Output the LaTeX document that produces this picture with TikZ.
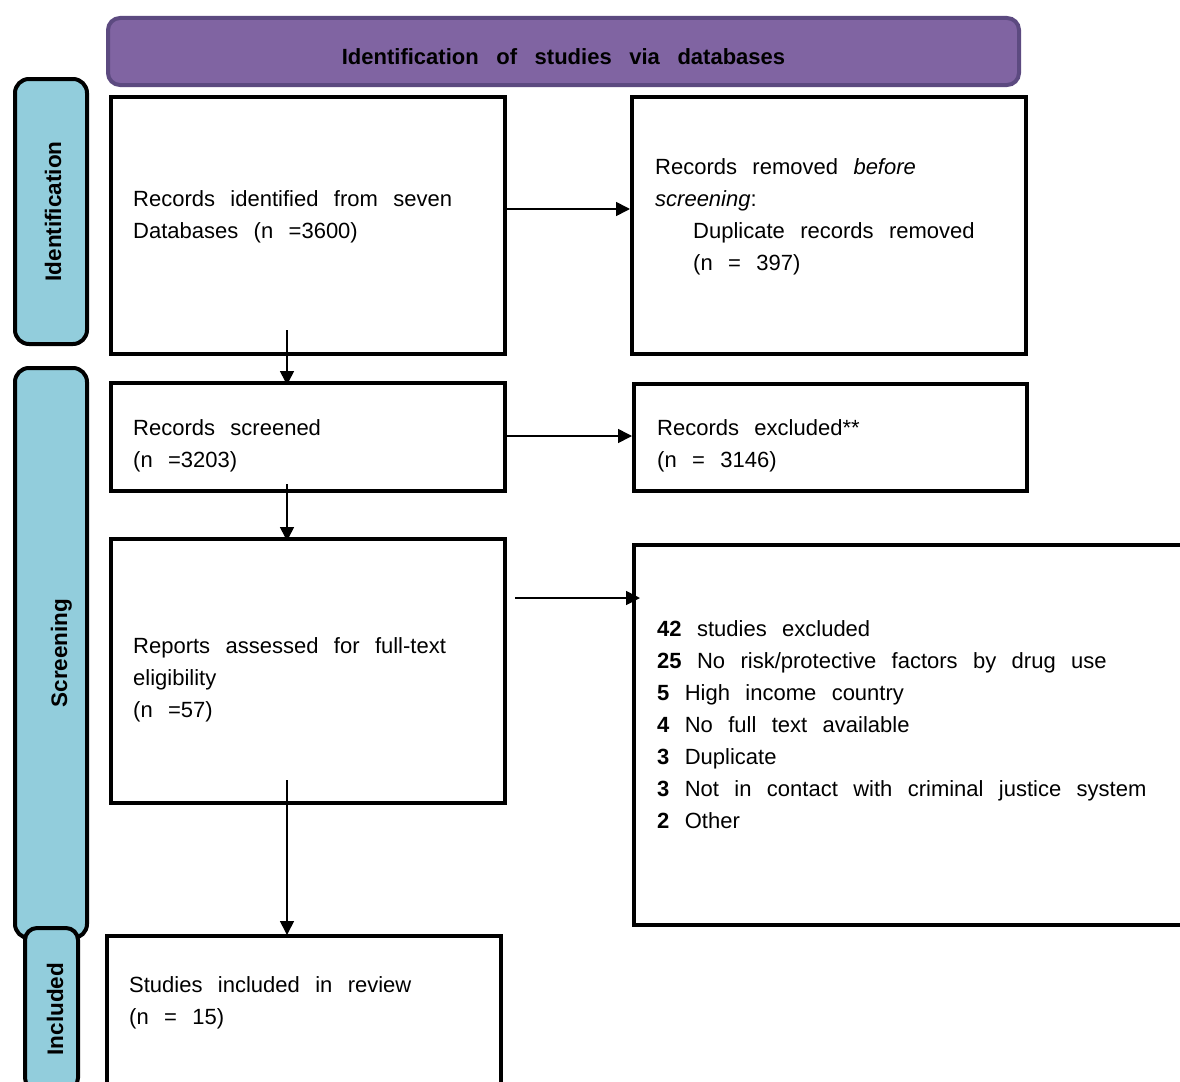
\documentclass[tikz,border=0pt]{standalone}
\usepackage{fontspec}
\setmainfont{Liberation Sans}
\usetikzlibrary{arrows.meta,calc}
\definecolor{phasepurple}{HTML}{8064A2}
\definecolor{phaseedge}{HTML}{5C4A80}
\definecolor{stageblue}{HTML}{92CDDC}
\newcommand{\bodyfont}{\fontsize{22}{32}\selectfont\spaceskip=0.7em\relax}
\newcommand{\headfont}{\fontsize{22}{27}\selectfont\bfseries\spaceskip=0.8em\relax}
\newcommand{\tagfont}{\fontsize{22.5}{27}\selectfont\bfseries}
\tikzset{
  box/.style={draw=black, line width=4pt, anchor=north west, inner sep=0pt},
  bar/.style={draw=black, fill=stageblue, line width=4pt, rounded corners=14pt,
              rotate=90, inner sep=0pt, font=\tagfont},
  hdr/.style={draw=phaseedge, fill=phasepurple, line width=4pt, rounded corners=12pt,
              inner sep=0pt, text height=27pt, font=\headfont},
  txt/.style={anchor=base west, align=flush left, inner sep=0pt, text width=530pt, font=\bodyfont},
  flow/.style={-{Triangle[length=14pt,width=14pt]}, line width=1.6pt},
}

\begin{document}
\begin{tikzpicture}[x=1pt, y=-1pt]
\useasboundingbox (0,0) rectangle (1180,1081);
\clip (0,0) rectangle (1180,1081);

% ------------------------------------------------------------- header
\node[hdr, minimum width=911pt, minimum height=67pt] (head) at (563.5,51.5)
  {Identification of studies via databases};

% ------------------------------------------------------------- stage bars
% text height pushes each rotated label a little to the right, as in the source
\node[bar, text height=20.5pt, minimum width=265pt, minimum height=72pt] (idbar) at (51,211.5) {Identification};
\node[bar, text height=37pt, minimum width=570pt, minimum height=72pt] (scbar) at (51,653) {Screening};
\node[bar, text height=23.5pt, rounded corners=12pt, minimum width=162pt, minimum height=53pt] (inbar) at (51.5,1009) {Included};

% ------------------------------------------------------------- boxes
\node[box, minimum width=394pt, minimum height=257pt] (b1) at (109,95) {};
\node[box, minimum width=394pt, minimum height=257pt] (b2) at (630,95) {};
\node[box, minimum width=394pt, minimum height=108pt] (b3) at (109,381) {};
\node[box, minimum width=393pt, minimum height=107pt] (b4) at (632,382) {};
\node[box, minimum width=394pt, minimum height=264pt] (b5) at (109,537) {};
\node[box, minimum width=570pt, minimum height=380pt] (b6) at (632,543) {};
\node[box, minimum width=394pt, minimum height=170pt] (b7) at (105,934) {};

% ------------------------------------------------------------- texts
\node[txt] (t1) at (133,206) {Records identified from seven\\Databases (n =3600)};
\node[txt] (t2) at (655,174) {Records removed \textit{before}\\\textit{screening}:\\
  \hspace*{38pt}Duplicate records removed\\\hspace*{38pt}(n = 397)};
\node[txt] (t3) at (133,435) {Records screened\\(n =3203)};
\node[txt] (t4) at (657,435) {Records excluded**\\(n = 3146)};
\node[txt] (t5) at (133,653) {Reports assessed for full-text\\eligibility\\(n =57)};
\node[txt] (t6) at (657,636) {\textbf{42} studies excluded\\
  \textbf{25} No risk/protective factors by drug use\\
  \textbf{5} High income country\\
  \textbf{4} No full text available\\
  \textbf{3} Duplicate\\
  \textbf{3} Not in contact with criminal justice system\\
  \textbf{2} Other};
\node[txt] (t7) at (129,992) {Studies included in review\\(n = 15)};

% ------------------------------------------------------------- arrows
\draw[flow] ([yshift=16.5pt]b1.east) -- ([yshift=16.5pt]b1.east -| b2.west);
\draw[flow] ([yshift=1pt]b3.east) -- ([yshift=1pt]b3.east -| b4.west);
\draw[flow] ([shift={(8pt,73pt)}]b5.east) -- ([shift={(8pt,73pt)}]b5.east -| b6.west);

\draw[flow] ([shift={(-21pt,26pt)}]b1.south) -- ([shift={(-21pt,-4pt)}]b1.south |- b3.north);
\draw[flow] ([shift={(-21pt,9pt)}]b3.south) -- ([shift={(-21pt,-4pt)}]b3.south |- b5.north);
\draw[flow] ([shift={(-21pt,25pt)}]b5.south) -- ([shift={(-21pt,-1pt)}]b5.south |- b7.north);

\end{tikzpicture}
\end{document}
